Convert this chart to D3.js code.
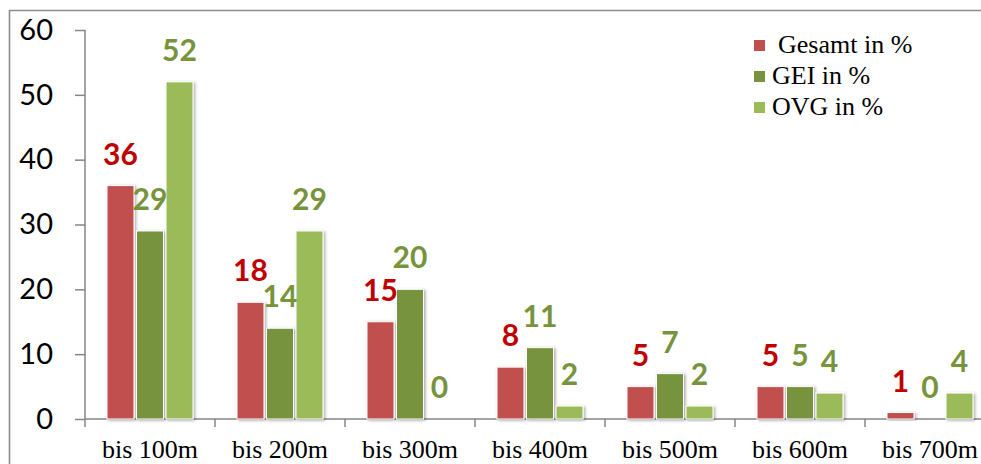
<!DOCTYPE html>
<html>
<head>
<meta charset="utf-8">
<script src="https://cdn.jsdelivr.net/npm/d3@7"></script>
<style>
  html, body { margin: 0; padding: 0; background: #fff; overflow: hidden; }
  svg { display: block; }
</style>
</head>
<body>
<svg id="chart" width="981" height="464"></svg>
<script>
// Distance bands and the share of each group per band (%)
const categories = ["bis 100m", "bis 200m", "bis 300m", "bis 400m", "bis 500m", "bis 600m", "bis 700m"];
const seriesNames = ["Gesamt in %", "GEI in %", "OVG in %"];
const gesamt = [36, 18, 15, 8, 5, 5, 1];
const gei    = [29, 14, 20, 11, 7, 5, 0];
const ovg    = [52, 29, 0, 2, 2, 4, 4];
const yTicks = [0, 10, 20, 30, 40, 50, 60];

const seriesValues = [gesamt, gei, ovg];
const barColors   = ["#c0504d", "#77933c", "#9bbb59"];
const labelColors = ["#c00000", "#77933c", "#77933c"];

const svg = d3.select("#chart");
const plot = { left: 85, top: 30, bottom: 419, band: 130 };

const x0 = d3.scaleBand()
  .domain(categories)
  .range([plot.left, plot.left + plot.band * categories.length]);

const x1 = d3.scaleBand()
  .domain(seriesNames)
  .range([0, x0.bandwidth()])
  .paddingInner(0.085)
  .paddingOuter(0.746);

const y = d3.scaleLinear().domain([0, 60]).range([plot.bottom, plot.top]);

// Drop shadow for the bars
const defs = svg.append("defs");
const f = defs.append("filter").attr("id", "barShadow")
  .attr("x", "-30%").attr("y", "-10%").attr("width", "160%").attr("height", "130%");
f.append("feDropShadow")
  .attr("dx", 1.5).attr("dy", 1).attr("stdDeviation", 1.4)
  .attr("flood-color", "#000").attr("flood-opacity", 0.35);

// Outer frame (top and left edges)
svg.append("line").attr("x1", 9.5).attr("x2", 981).attr("y1", 10.5).attr("y2", 10.5)
  .attr("stroke", "#8c8c8c").attr("stroke-width", 1.6);
svg.append("line").attr("x1", 9.5).attr("x2", 9.5).attr("y1", 10).attr("y2", 464)
  .attr("stroke", "#8c8c8c").attr("stroke-width", 1.6);

// Y axis
const yAxis = d3.axisLeft(y).tickValues(yTicks).tickSize(10).tickPadding(22);
const gy = svg.append("g").attr("transform", `translate(${plot.left},0)`).call(yAxis);
gy.select(".domain").attr("stroke", "#868686").attr("stroke-width", 1.5)
  .attr("d", `M0,${plot.top}V${plot.bottom}`);
gy.selectAll(".tick line").attr("stroke", "#868686").attr("stroke-width", 1.5);
gy.selectAll(".tick text")
  .attr("fill", "#000")
  .style("font-family", "Lato, 'Open Sans', sans-serif")
  .style("font-size", "29px");

// X axis
const xAxis = d3.axisBottom(x0).tickSize(0).tickPadding(0);
const gx = svg.append("g").attr("transform", `translate(0,${plot.bottom})`).call(xAxis);
gx.select(".domain").attr("stroke", "#868686").attr("stroke-width", 1.5)
  .attr("d", `M${plot.left},0H${plot.left + plot.band * categories.length}`);
gx.selectAll(".tick text")
  .attr("fill", "#000")
  .attr("y", 39)
  .attr("dy", 0)
  .style("font-family", "'Liberation Serif', 'Times New Roman', serif")
  .style("font-size", "26px");
// Boundary ticks between categories
gx.selectAll(".boundary")
  .data(d3.range(categories.length + 1))
  .join("line")
  .attr("class", "boundary")
  .attr("x1", i => plot.left + i * x0.step())
  .attr("x2", i => plot.left + i * x0.step())
  .attr("y1", 0).attr("y2", 8)
  .attr("stroke", "#868686").attr("stroke-width", 1.5);

// Bars
const groups = svg.append("g").selectAll("g")
  .data(categories)
  .join("g")
  .attr("transform", d => `translate(${x0(d)},0)`);

groups.selectAll("rect")
  .data((c, i) => seriesNames.map((s, k) => ({ s, k, v: seriesValues[k][i] })))
  .join("rect")
  .attr("x", d => x1(d.s))
  .attr("width", x1.bandwidth())
  .attr("y", d => y(d.v))
  .attr("height", d => y(0) - y(d.v))
  .attr("fill", d => barColors[d.k])
  .attr("stroke", d => d.v > 0 ? "#fff" : "none")
  .attr("stroke-width", 1)
  .attr("filter", "url(#barShadow)");

// Value labels
groups.selectAll("text.value")
  .data((c, i) => seriesNames.map((s, k) => ({ s, k, v: seriesValues[k][i] })))
  .join("text")
  .attr("class", "value")
  .attr("x", d => x1(d.s) + x1.bandwidth() / 2)
  .attr("y", d => y(d.v) - 21)
  .attr("text-anchor", "middle")
  .attr("fill", d => labelColors[d.k])
  .style("font-family", "Lato, 'Open Sans', sans-serif")
  .style("font-weight", "bold")
  .style("font-size", "30px")
  .text(d => d3.format(".0f")(d.v));

// Legend
const legend = svg.append("g").attr("transform", "translate(754,0)");
const rowY = [53, 84, 115];
seriesNames.forEach((name, k) => {
  legend.append("rect")
    .attr("x", 0).attr("y", rowY[k] - 13)
    .attr("width", 11).attr("height", 11)
    .attr("fill", barColors[k]);
  legend.append("text")
    .attr("x", k === 0 ? 24 : 18)
    .attr("y", rowY[k])
    .attr("fill", "#000")
    .style("font-family", "'Liberation Serif', 'Times New Roman', serif")
    .style("font-size", "26px")
    .text(name);
});
</script>
</body>
</html>
